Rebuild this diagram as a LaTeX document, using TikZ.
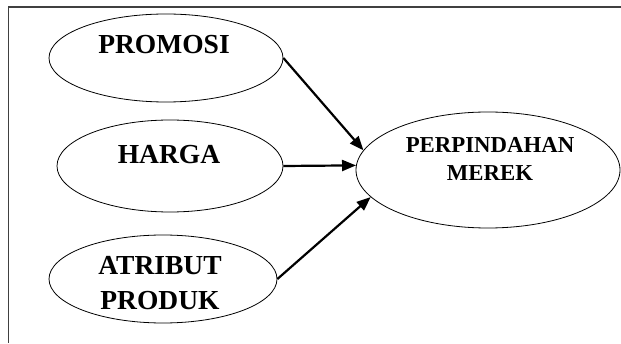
\documentclass[tikz,border=0pt]{standalone}
\usepackage{fontspec}
\setmainfont{Liberation Serif}
\usetikzlibrary{shapes.geometric,arrows.meta}
\begin{document}
\begin{tikzpicture}[x=1pt,y=1pt,
  oval/.style={draw=black,ellipse,line width=0.8pt,inner sep=0pt},
  lbl/.style={font=\bfseries\fontsize{27.5}{35}\selectfont,align=center,inner sep=0pt},
  lblsmall/.style={font=\bfseries\fontsize{22.8}{28}\selectfont,align=center,inner sep=0pt},
  link/.style={line width=2.2pt,-{Triangle[length=14pt,width=11pt]}}]
\useasboundingbox (0,0) rectangle (621,343);
% frame edges
\coordinate (ftl) at (8.5,336);
\coordinate (ftr) at (621,336);
\coordinate (fbl) at (8.5,0);
\draw[line width=1.6pt,draw=black!75] (ftr) -- (ftl) -- (fbl);
% ovals
\node[oval,minimum width=234pt,minimum height=88pt] (promosi) at (166,285) {};
\node[oval,minimum width=226pt,minimum height=92pt] (harga) at (170,177) {};
\node[oval,minimum width=228pt,minimum height=88pt] (atribut) at (163,64) {};
\node[oval,minimum width=264pt,minimum height=116pt] (merek) at (488,173) {};
% labels
\node[lbl] (tpromosi) at (164,298) {PROMOSI};
\node[lbl] (tharga) at (169,188) {HARGA};
\node[lbl] (tatribut) at (160,59.5) {ATRIBUT\\PRODUK};
\node[lblsmall] (tmerek) at (490,184.5) {PERPINDAHAN\\MEREK};
% arrows
\draw[link] (promosi.east) -- (merek.171);
\draw[link] (harga.east) -- (merek.178.3);
\draw[link] (atribut.east) -- (merek.193);
\end{tikzpicture}
\end{document}
